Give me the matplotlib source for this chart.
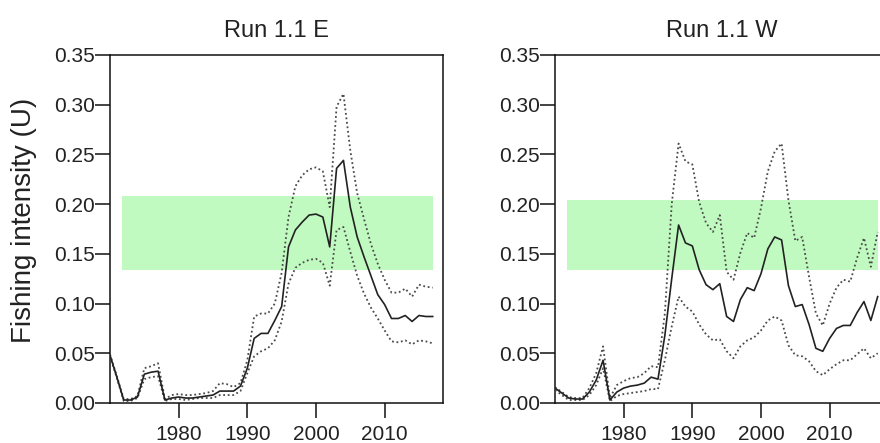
import matplotlib
matplotlib.use("Agg")
import matplotlib.pyplot as plt
from matplotlib.patches import Rectangle

plt.rcParams['font.family'] = ['Liberation Sans', 'DejaVu Sans']

years = list(range(1970, 2018))

e_med = [0.048, 0.026, 0.003, 0.003, 0.006, 0.029, 0.031, 0.032, 0.003, 0.005,
         0.006, 0.005, 0.005, 0.006, 0.007, 0.008, 0.012, 0.012, 0.012, 0.017,
         0.035, 0.065, 0.070, 0.070, 0.083, 0.097, 0.157, 0.174, 0.182, 0.189,
         0.190, 0.187, 0.157, 0.236, 0.244, 0.197, 0.167, 0.147, 0.128, 0.109,
         0.099, 0.085, 0.085, 0.088, 0.082, 0.088, 0.087, 0.087]
e_hi = [0.049, 0.027, 0.004, 0.004, 0.007, 0.035, 0.037, 0.040, 0.004, 0.008,
        0.009, 0.008, 0.008, 0.009, 0.010, 0.012, 0.020, 0.019, 0.016, 0.020,
        0.043, 0.087, 0.090, 0.090, 0.100, 0.131, 0.187, 0.218, 0.229, 0.235,
        0.237, 0.233, 0.197, 0.298, 0.311, 0.254, 0.211, 0.185, 0.160, 0.140,
        0.124, 0.111, 0.111, 0.115, 0.107, 0.119, 0.117, 0.116]
e_lo = [0.047, 0.025, 0.002, 0.002, 0.005, 0.024, 0.026, 0.027, 0.002, 0.004,
        0.004, 0.003, 0.004, 0.005, 0.005, 0.005, 0.008, 0.008, 0.008, 0.012,
        0.030, 0.047, 0.052, 0.055, 0.063, 0.082, 0.120, 0.136, 0.141, 0.144,
        0.145, 0.141, 0.118, 0.174, 0.177, 0.152, 0.128, 0.110, 0.096, 0.085,
        0.073, 0.062, 0.061, 0.063, 0.059, 0.063, 0.062, 0.060]

w_med = [0.015, 0.010, 0.005, 0.004, 0.004, 0.011, 0.023, 0.043, 0.003, 0.011,
         0.015, 0.017, 0.018, 0.020, 0.026, 0.024, 0.068, 0.125, 0.179, 0.161,
         0.158, 0.134, 0.119, 0.114, 0.120, 0.087, 0.082, 0.104, 0.116, 0.113,
         0.130, 0.155, 0.167, 0.164, 0.118, 0.097, 0.099, 0.079, 0.055, 0.052,
         0.065, 0.075, 0.078, 0.078, 0.091, 0.102, 0.083, 0.107]
w_hi = [0.016, 0.011, 0.006, 0.005, 0.005, 0.015, 0.030, 0.057, 0.005, 0.018,
        0.022, 0.025, 0.026, 0.030, 0.037, 0.036, 0.090, 0.200, 0.261, 0.243,
        0.240, 0.202, 0.181, 0.172, 0.189, 0.132, 0.124, 0.151, 0.171, 0.166,
        0.196, 0.233, 0.253, 0.261, 0.204, 0.163, 0.167, 0.127, 0.090, 0.078,
        0.100, 0.116, 0.124, 0.122, 0.146, 0.166, 0.137, 0.172]
w_lo = [0.013, 0.008, 0.003, 0.003, 0.003, 0.008, 0.018, 0.035, 0.002, 0.007,
        0.009, 0.010, 0.011, 0.012, 0.014, 0.014, 0.043, 0.077, 0.107, 0.097,
        0.092, 0.079, 0.069, 0.063, 0.064, 0.052, 0.045, 0.057, 0.063, 0.066,
        0.073, 0.083, 0.087, 0.083, 0.058, 0.048, 0.047, 0.042, 0.032, 0.028,
        0.034, 0.039, 0.043, 0.043, 0.049, 0.055, 0.045, 0.050]

titles = ["Run 1.1 E", "Run 1.1 W"]
band_x = [1971.7, 2017.0]
band_e = [0.1335, 0.2085]
band_w = [0.1335, 0.2040]
xticks = [1980, 1990, 2000, 2010]
yticks = [0.00, 0.05, 0.10, 0.15, 0.20, 0.25, 0.30, 0.35]

fig = plt.figure(figsize=(8.8, 4.43), dpi=100)
W, H = 880, 443
ax1 = fig.add_axes([110 / W, 40 / H, 333 / W, 348 / H])
ax2 = fig.add_axes([555 / W, 40 / H, 333 / W, 348 / H])

panels = [(ax1, e_med, e_hi, e_lo, band_e, titles[0]),
          (ax2, w_med, w_hi, w_lo, band_w, titles[1])]

for ax, med, hi, lo, band, title in panels:
    ax.add_patch(Rectangle((band_x[0], band[0]), band_x[1] - band_x[0],
                           band[1] - band[0], facecolor='#c0fac0',
                           edgecolor='none', zorder=1))
    ax.plot(years, hi, color='#4a4a4a', lw=1.3, ls=(0, (1, 1.5)), zorder=3)
    ax.plot(years, lo, color='#4a4a4a', lw=1.3, ls=(0, (1, 1.5)), zorder=3)
    ax.plot(years, med, color='#222222', lw=1.2, zorder=4)
    ax.set_xlim(1970, 2018.5)
    ax.set_ylim(0, 0.35)
    ax.set_xticks(xticks)
    ax.set_xticklabels([str(t) for t in xticks])
    ax.set_yticks(yticks)
    ax.set_yticklabels(["%.2f" % t for t in yticks])
    ax.tick_params(axis='both', direction='out', length=10.5, width=1.1,
                   color='#111111', labelcolor='#222222', labelsize=15)
    ax.tick_params(axis='x', pad=5)
    ax.tick_params(axis='y', pad=0.5)
    for sp in ax.spines.values():
        sp.set_linewidth(1.1)
        sp.set_color('#111111')
    ax.set_title(title, fontsize=17, color='#222222', pad=13)

ax1.set_ylabel("Fishing intensity (U)", fontsize=20, color='#222222')
ax1.yaxis.set_label_coords(-0.218, 0.526)

fig.savefig("out.png", dpi=100)
